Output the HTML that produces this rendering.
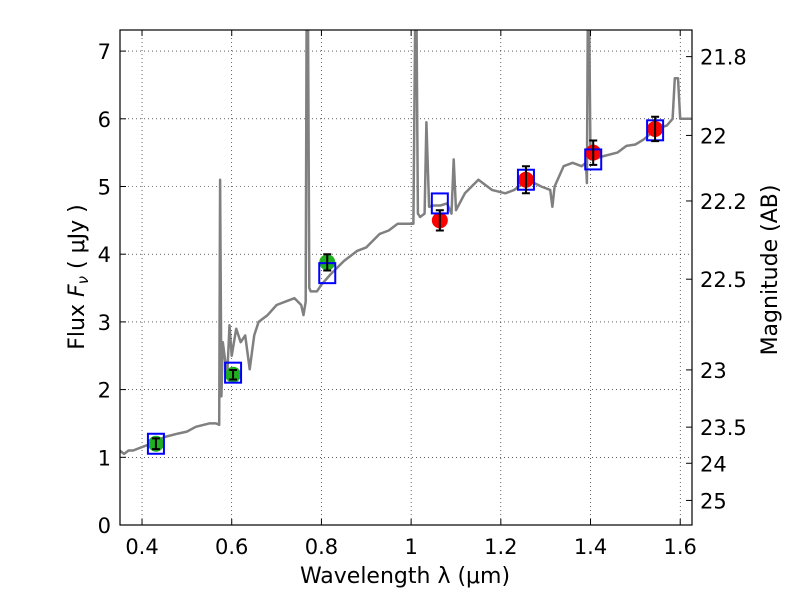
<!DOCTYPE html>
<html><head><meta charset="utf-8"><style>
body{margin:0;background:#fff;}
svg text{font-family:"DejaVu Sans","Liberation Sans",sans-serif;font-size:21px;fill:#000;}
svg text.title{font-size:22px;}
</style></head><body>
<svg id="chart" width="800" height="600" xmlns="http://www.w3.org/2000/svg">
<defs><clipPath id="clip"><rect x="120" y="30" width="572" height="495"/></clipPath></defs>
<g id="grid"></g>
<g id="spec" clip-path="url(#clip)"></g>
<g id="marks"></g>
<rect x="120" y="30" width="572" height="495" fill="none" stroke="#000" stroke-width="1.2"/>
<g id="axes"></g>
<text class="title" x="405" y="583" text-anchor="middle">Wavelength  λ (μm)</text>
<text class="title" transform="translate(84,277) rotate(-90)" text-anchor="middle">Flux  <tspan font-style="italic">F</tspan><tspan font-style="italic" font-size="15" dy="4">ν</tspan><tspan dy="-4">  ( μJy )</tspan></text>
<text class="title" transform="translate(777,270) rotate(-90)" text-anchor="middle">Magnitude (AB)</text>
</svg>
<script>
const xTicks=[0.4,0.6,0.8,1.0,1.2,1.4,1.6];
const xTickLabels=["0.4","0.6","0.8","1","1.2","1.4","1.6"];
const yTicks=[0,1,2,3,4,5,6,7];
const magTicks=[21.8,22,22.2,22.5,23,23.5,24,25];
const specLam=[0.35,0.36,0.37,0.38,0.40,0.42,0.45,0.48,0.50,0.52,0.55,0.565,0.572,0.574,0.577,0.580,0.59,0.595,0.60,0.61,0.62,0.63,0.64,0.65,0.66,0.68,0.70,0.72,0.74,0.755,0.76,0.765,0.767,0.770,0.773,0.776,0.78,0.79,0.80,0.82,0.85,0.88,0.90,0.93,0.95,0.97,0.99,1.005,1.009,1.012,1.015,1.02,1.03,1.034,1.04,1.05,1.065,1.08,1.09,1.095,1.10,1.12,1.15,1.18,1.21,1.23,1.26,1.29,1.31,1.315,1.32,1.34,1.36,1.38,1.39,1.392,1.394,1.397,1.40,1.405,1.43,1.46,1.48,1.50,1.52,1.545,1.57,1.583,1.588,1.595,1.60,1.625];
const specFlux=[1.1,1.05,1.1,1.1,1.15,1.2,1.3,1.35,1.38,1.45,1.5,1.5,1.48,5.1,1.9,2.7,2.2,2.95,2.5,2.9,2.7,2.8,2.3,2.8,3.0,3.1,3.25,3.3,3.35,3.25,3.1,3.3,7.5,7.5,3.5,3.45,3.45,3.45,3.55,3.7,3.9,4.05,4.1,4.3,4.35,4.45,4.45,4.45,7.5,7.5,4.6,4.55,4.6,5.95,4.7,4.72,4.72,4.75,4.6,5.4,4.65,4.9,5.1,4.95,4.9,4.95,5.1,5.0,4.95,4.7,5.0,5.3,5.35,5.3,5.35,5.05,7.5,7.5,5.4,5.4,5.45,5.5,5.6,5.62,5.7,5.85,5.9,6.0,6.6,6.6,6.0,6.0];
const obsLam=[0.431,0.603,0.813,1.064,1.256,1.406,1.544];
const obsFlux=[1.2,2.22,3.88,4.5,5.1,5.5,5.85];
const obsErr=[0.08,0.07,0.12,0.15,0.2,0.18,0.18];
const obsColor=["#1faf1f","#1faf1f","#1faf1f","red","red","red","red"];
const modelFlux=[1.2,2.25,3.72,4.75,5.1,5.4,5.83];
const X=v=>119.6+(v-0.35)*448.5;
const Y=v=>525-v*67.7;
const NS="http://www.w3.org/2000/svg";
function mk(tag,attrs,parent){const e=document.createElementNS(NS,tag);for(const k in attrs)e.setAttribute(k,attrs[k]);parent.appendChild(e);return e;}
const grid=document.getElementById('grid'),axes=document.getElementById('axes');
xTicks.forEach((t,i)=>{
  const l=mk('line',{x1:X(t),x2:X(t),y1:30,y2:525,stroke:'#000','stroke-width':0.6,'stroke-dasharray':'1,3'},grid);
  
  
  mk('line',{x1:X(t),x2:X(t),y1:525,y2:519,stroke:'#000'},axes);
  mk('line',{x1:X(t),x2:X(t),y1:30,y2:36,stroke:'#000'},axes);
  const tx=mk('text',{x:X(t),y:554,'text-anchor':'middle'},axes);tx.textContent=xTickLabels[i];
  
  
});
yTicks.forEach(t=>{
  if(t>0&&t<7.3){const l=mk('line',{x1:120,x2:692,y1:Y(t),y2:Y(t),stroke:'#000','stroke-width':0.6,'stroke-dasharray':'1,3'},grid);
  
  }
  mk('line',{x1:120,x2:126,y1:Y(t),y2:Y(t),stroke:'#000'},axes);
  const tx=mk('text',{x:111,y:Y(t)+8,'text-anchor':'end'},axes);tx.textContent=String(t);
  
  
});
magTicks.forEach(m=>{
  const f=Math.pow(10,(23.9-m)/2.5);const y=Y(f);
  mk('line',{x1:692,x2:686,y1:y,y2:y,stroke:'#000'},axes);
  const tx=mk('text',{x:700,y:y+8},axes);tx.textContent=String(m);
  
  
});
const pts=specLam.map((l,i)=>X(l).toFixed(1)+','+Y(specFlux[i]).toFixed(1)).join(' ');
const pl=mk('polyline',{points:pts,fill:'none',stroke:'#808080','stroke-width':2.5,'stroke-linejoin':'round'},document.getElementById('spec'));


const marks=document.getElementById('marks');
obsLam.forEach((l,i)=>{
  const c=mk('circle',{cx:X(l),cy:Y(obsFlux[i]),r:8,fill:obsColor[i]},marks);
  
  
  const s=mk('rect',{x:X(l)-8,y:Y(modelFlux[i])-10,width:16,height:20,fill:'none',stroke:'blue','stroke-width':2},marks);
  
  
  const y1=Y(obsFlux[i]+obsErr[i]),y2=Y(obsFlux[i]-obsErr[i]),x=X(l);
  const e=mk('path',{d:`M${x},${y1}V${y2}M${x-4},${y1}H${x+4}M${x-4},${y2}H${x+4}`,stroke:'#000','stroke-width':2,fill:'none'},marks);
  
  
});
</script>
</body></html>
